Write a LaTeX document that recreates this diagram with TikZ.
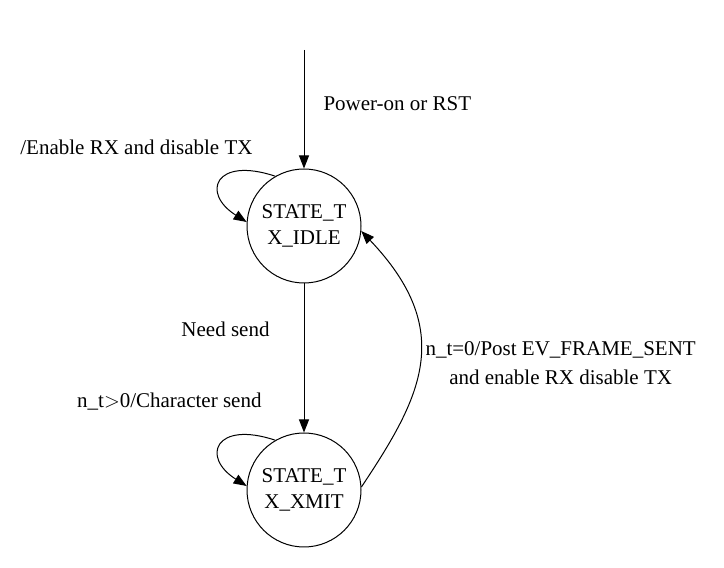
\documentclass[tikz,border=0pt]{standalone}
\usepackage{fontspec}
\setmainfont{Liberation Serif}
\usetikzlibrary{arrows.meta, positioning}

\begin{document}
\begin{tikzpicture}[x=1pt,y=1pt,node distance=264pt,
                    line width=1pt,>={Triangle[length=13pt,width=10pt]},
                    every node/.style={font=\fontsize{21}{26}\selectfont},
                    state node/.style={circle,draw,minimum size=114pt,inner sep=0pt,align=center},
                    text node/.style={inner sep=0pt}]
 \useasboundingbox (0,0) rectangle (724,568);

 \node[state node] (idle) at (304,342) {STATE\_T\\X\_IDLE};
 \node[state node] (xmit) [below of=idle] {STATE\_T\\X\_XMIT};
 \coordinate (start) at (304,518);

 % labels
 \node[text node,anchor=base west] (power) at (323,457) {Power-on or RST};
 \node[text node,anchor=base east] (enable) at (253,413) {/Enable RX and disable TX};
 \node[text node,anchor=base east] (need) at (270,231) {Need send};
 \node[text node,anchor=base east] (chsend) at (262,160) {n\_t$>$0/Character send};
 \node[text node,anchor=west,align=center] (sent) at (425,205)
      {n\_t=0/Post EV\_FRAME\_SENT\\[3pt]and enable RX disable TX};

 \draw[->] (start) -- (idle);
 \draw[->] (idle) -- (xmit);
 \draw[->] (idle.120) .. controls +(-60,20) and +(-46,29) .. (idle.176);
 \draw[->] (xmit.120) .. controls +(-60,20) and +(-46,29) .. (xmit.176);
 \draw[->] (xmit.3) .. controls +(60,90) and +(95,-100) .. (idle.-5);

\end{tikzpicture}
\end{document}
